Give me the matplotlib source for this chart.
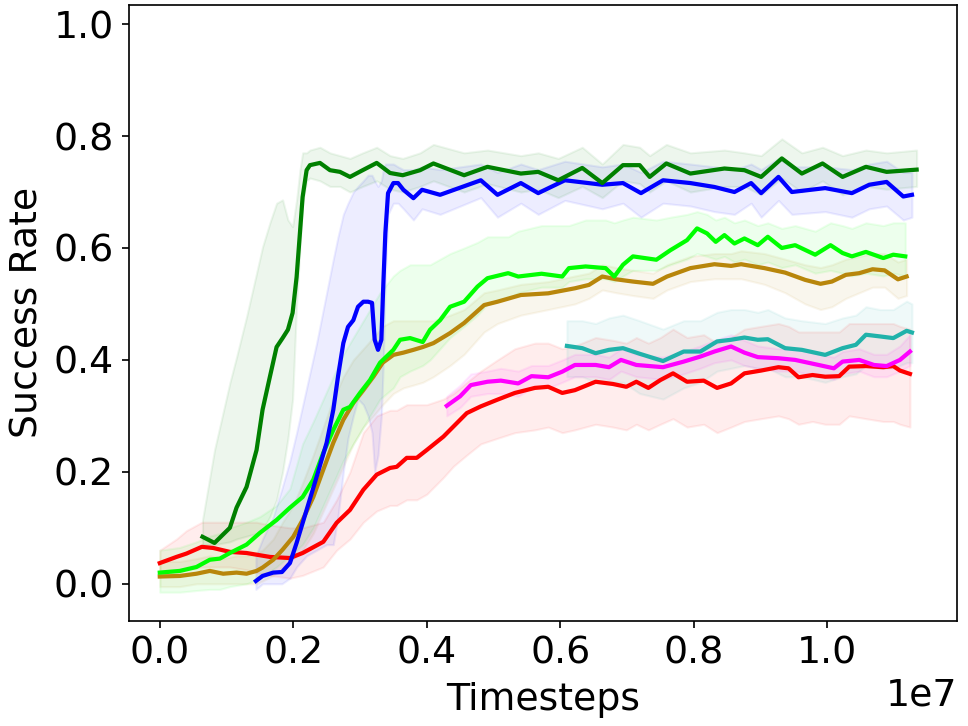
import matplotlib
matplotlib.use("Agg")
from matplotlib import pyplot as plt

# timesteps are in units of 1e7, success rate in [0, 1]

# dark green run
g_x = [0.064, 0.082, 0.105, 0.115, 0.13, 0.145, 0.154, 0.165, 0.175, 0.184, 0.192, 0.199, 0.205, 0.21,
       0.214, 0.22, 0.225, 0.24, 0.255, 0.27, 0.285, 0.304, 0.325, 0.345, 0.364, 0.39, 0.41, 0.456, 0.491,
       0.541, 0.567, 0.597, 0.633, 0.663, 0.694, 0.719, 0.734, 0.759, 0.795, 0.846, 0.876, 0.901, 0.932,
       0.962, 0.993, 1.023, 1.058, 1.089, 1.134]
g_y = [0.084, 0.073, 0.10, 0.136, 0.173, 0.239, 0.311, 0.37, 0.423, 0.439, 0.454, 0.484, 0.548, 0.627,
       0.691, 0.739, 0.748, 0.752, 0.739, 0.736, 0.727, 0.739, 0.752, 0.734, 0.73, 0.739, 0.751, 0.73, 0.745,
       0.733, 0.736, 0.721, 0.743, 0.716, 0.748, 0.748, 0.727, 0.751, 0.733, 0.742, 0.739, 0.727, 0.76,
       0.733, 0.751, 0.727, 0.745, 0.736, 0.740]
g_hi = [0.114, 0.239, 0.359, 0.405, 0.477, 0.555, 0.602, 0.645, 0.68, 0.686, 0.65, 0.638, 0.686, 0.739,
        0.77, 0.77, 0.775, 0.78, 0.77, 0.765, 0.76, 0.77, 0.78, 0.765, 0.76, 0.77, 0.785, 0.77, 0.775,
        0.765, 0.77, 0.76, 0.78, 0.75, 0.785, 0.78, 0.765, 0.785, 0.77, 0.775, 0.77, 0.765, 0.795,
        0.77, 0.78, 0.765, 0.775, 0.77, 0.775]
g_lo = [0.07, 0.07, 0.075, 0.08, 0.085, 0.09, 0.095, 0.12, 0.15, 0.2, 0.26, 0.33, 0.5, 0.6,
        0.68, 0.72, 0.725, 0.72, 0.71, 0.71, 0.7, 0.71, 0.72, 0.705, 0.7, 0.71, 0.72, 0.70, 0.715,
        0.70, 0.705, 0.69, 0.71, 0.69, 0.72, 0.715, 0.70, 0.72, 0.70, 0.71, 0.71, 0.695, 0.725,
        0.70, 0.72, 0.695, 0.71, 0.705, 0.71]

# blue run
b_x = [0.144, 0.154, 0.17, 0.183, 0.195, 0.205, 0.22, 0.235, 0.25, 0.26, 0.267, 0.275, 0.282, 0.29,
       0.297, 0.305, 0.312, 0.318, 0.322, 0.327, 0.332, 0.335, 0.338, 0.342, 0.35, 0.357, 0.365, 0.38,
       0.393, 0.42, 0.481, 0.506, 0.541, 0.567, 0.607, 0.663, 0.694, 0.721, 0.754, 0.795, 0.831, 0.861,
       0.886, 0.901, 0.927, 0.947, 0.997, 1.037, 1.063, 1.089, 1.114, 1.127]
b_y = [0.005, 0.014, 0.02, 0.021, 0.037, 0.073, 0.132, 0.191, 0.252, 0.311, 0.37, 0.43, 0.459, 0.471,
       0.495, 0.504, 0.504, 0.502, 0.436, 0.418, 0.436, 0.537, 0.627, 0.698, 0.716, 0.716, 0.704, 0.689,
       0.704, 0.695, 0.721, 0.695, 0.716, 0.698, 0.721, 0.713, 0.716, 0.698, 0.721, 0.716, 0.709, 0.70,
       0.716, 0.698, 0.727, 0.70, 0.707, 0.698, 0.713, 0.718, 0.692, 0.695]
b_hi = [0.05, 0.08, 0.12, 0.17, 0.22, 0.27, 0.35, 0.43, 0.52, 0.58, 0.62, 0.66, 0.68, 0.70,
        0.71, 0.72, 0.73, 0.73, 0.72, 0.71, 0.72, 0.74, 0.75, 0.75, 0.75, 0.745, 0.74, 0.74,
        0.745, 0.74, 0.75, 0.735, 0.75, 0.74, 0.755, 0.745, 0.75, 0.735, 0.755, 0.75, 0.745, 0.74,
        0.75, 0.74, 0.76, 0.745, 0.745, 0.74, 0.75, 0.755, 0.735, 0.735]
b_lo = [-0.01, 0.0, 0.0, 0.0, 0.01, 0.03, 0.05, 0.06, 0.07, 0.07, 0.12, 0.2, 0.26, 0.3,
        0.33, 0.32, 0.3, 0.27, 0.2, 0.23, 0.3, 0.4, 0.55, 0.66, 0.68, 0.68, 0.67, 0.65,
        0.67, 0.66, 0.69, 0.655, 0.68, 0.66, 0.685, 0.67, 0.68, 0.655, 0.68, 0.675, 0.665, 0.66,
        0.68, 0.655, 0.685, 0.66, 0.665, 0.655, 0.67, 0.675, 0.65, 0.655]

# lime run
l_x = [0.0, 0.03, 0.055, 0.075, 0.09, 0.105, 0.13, 0.15, 0.175, 0.195, 0.214, 0.23, 0.245, 0.26, 0.275,
       0.285, 0.3, 0.315, 0.33, 0.35, 0.36, 0.375, 0.394, 0.405, 0.42, 0.435, 0.456, 0.476, 0.491, 0.522,
       0.537, 0.572, 0.603, 0.613, 0.638, 0.668, 0.681, 0.694, 0.709, 0.744, 0.765, 0.79, 0.805, 0.82,
       0.833, 0.846, 0.861, 0.876, 0.896, 0.911, 0.932, 0.952, 0.982, 1.005, 1.023, 1.037, 1.058, 1.084,
       1.099, 1.117]
l_y = [0.02, 0.023, 0.03, 0.043, 0.045, 0.055, 0.07, 0.091, 0.114, 0.136, 0.155, 0.186, 0.234, 0.275,
       0.311, 0.316, 0.341, 0.364, 0.395, 0.418, 0.436, 0.439, 0.432, 0.454, 0.471, 0.495, 0.504, 0.531,
       0.546, 0.555, 0.549, 0.554, 0.549, 0.564, 0.567, 0.564, 0.549, 0.57, 0.585, 0.579, 0.596, 0.614,
       0.635, 0.626, 0.611, 0.623, 0.608, 0.617, 0.605, 0.620, 0.60, 0.605, 0.588, 0.605, 0.591, 0.585,
       0.593, 0.582, 0.588, 0.585]
l_hi = [0.06, 0.065, 0.075, 0.085, 0.09, 0.10, 0.11, 0.12, 0.14, 0.17,
        0.25, 0.29, 0.33, 0.37, 0.41, 0.43, 0.46, 0.49, 0.52, 0.55, 0.56, 0.57, 0.57, 0.57, 0.58,
        0.59, 0.60, 0.61, 0.62, 0.62, 0.63, 0.64, 0.64, 0.64, 0.65, 0.65, 0.645, 0.65, 0.655, 0.65,
        0.655, 0.66, 0.665, 0.66, 0.65, 0.655, 0.645, 0.65, 0.64, 0.645, 0.635, 0.64, 0.63, 0.645, 0.64,
        0.635, 0.645, 0.64, 0.645, 0.645]
l_lo = [-0.015, -0.015, -0.012, -0.01, -0.01, -0.005, 0.0, 0.01, 0.03, 0.05,
        0.07, 0.1, 0.14, 0.18, 0.22, 0.24, 0.27, 0.3, 0.33, 0.35, 0.37, 0.38, 0.39, 0.4, 0.42,
        0.44, 0.46, 0.48, 0.5, 0.51, 0.52, 0.53, 0.53, 0.54, 0.545, 0.545, 0.54, 0.55, 0.56, 0.56,
        0.57, 0.58, 0.59, 0.585, 0.58, 0.585, 0.575, 0.58, 0.57, 0.575, 0.565, 0.57, 0.555, 0.56, 0.555,
        0.55, 0.555, 0.55, 0.555, 0.55]

# brown run
o_x = [0.0, 0.03, 0.055, 0.075, 0.095, 0.115, 0.13, 0.145, 0.154, 0.17, 0.184, 0.2, 0.214, 0.23, 0.245,
       0.26, 0.275, 0.29, 0.305, 0.32, 0.334, 0.35, 0.365, 0.38, 0.394, 0.41, 0.435, 0.456, 0.486, 0.506,
       0.541, 0.582, 0.622, 0.643, 0.663, 0.684, 0.709, 0.739, 0.76, 0.795, 0.831, 0.856, 0.871, 0.906,
       0.937, 0.967, 0.99, 1.007, 1.028, 1.048, 1.068, 1.086, 1.106, 1.119]
o_y = [0.013, 0.014, 0.018, 0.023, 0.018, 0.02, 0.018, 0.023, 0.029, 0.043, 0.061, 0.084, 0.114, 0.155,
       0.204, 0.252, 0.293, 0.323, 0.346, 0.37, 0.395, 0.409, 0.413, 0.418, 0.423, 0.43, 0.448, 0.466,
       0.498, 0.504, 0.516, 0.519, 0.528, 0.534, 0.549, 0.544, 0.54, 0.536, 0.549, 0.564, 0.571, 0.568,
       0.571, 0.564, 0.556, 0.543, 0.536, 0.54, 0.552, 0.555, 0.562, 0.56, 0.544, 0.549]
o_hi = [0.04, 0.04, 0.045, 0.05, 0.045, 0.05, 0.05, 0.055, 0.06, 0.08, 0.11, 0.14, 0.18, 0.23, 0.28,
        0.33, 0.37, 0.4, 0.42, 0.44, 0.46, 0.47, 0.47, 0.47, 0.47, 0.47, 0.48, 0.49, 0.52, 0.525,
        0.535, 0.54, 0.55, 0.555, 0.57, 0.565, 0.56, 0.555, 0.57, 0.585, 0.59, 0.59, 0.595, 0.59,
        0.58, 0.57, 0.565, 0.57, 0.58, 0.585, 0.59, 0.59, 0.575, 0.58]
o_lo = [-0.005, -0.005, 0.0, 0.0, 0.0, 0.0, 0.0, 0.0, 0.005, 0.015, 0.03, 0.045, 0.06, 0.09, 0.13,
        0.17, 0.21, 0.25, 0.28, 0.3, 0.32, 0.34, 0.35, 0.355, 0.36, 0.37, 0.39, 0.41, 0.45, 0.465,
        0.48, 0.49, 0.5, 0.51, 0.525, 0.52, 0.515, 0.51, 0.525, 0.54, 0.545, 0.545, 0.545, 0.535,
        0.52, 0.5, 0.49, 0.495, 0.51, 0.52, 0.53, 0.53, 0.51, 0.515]

# teal run
t_x = [0.61, 0.633, 0.653, 0.673, 0.694, 0.719, 0.754, 0.785, 0.81, 0.835, 0.856, 0.876, 0.896, 0.911,
       0.937, 0.962, 0.997, 1.023, 1.043, 1.058, 1.079, 1.099, 1.119, 1.127]
t_y = [0.425, 0.421, 0.412, 0.418, 0.421, 0.411, 0.398, 0.415, 0.415, 0.433, 0.436, 0.44, 0.436, 0.437,
       0.421, 0.418, 0.409, 0.421, 0.427, 0.445, 0.442, 0.439, 0.452, 0.449]
t_hi = [0.47, 0.47, 0.465, 0.475, 0.48, 0.47, 0.455, 0.47, 0.47, 0.485, 0.49, 0.49, 0.485, 0.49,
        0.475, 0.47, 0.465, 0.475, 0.48, 0.495, 0.49, 0.49, 0.505, 0.5]
t_lo = [0.37, 0.37, 0.36, 0.36, 0.36, 0.34, 0.33, 0.35, 0.36, 0.38, 0.385, 0.39, 0.385, 0.385,
        0.37, 0.37, 0.36, 0.37, 0.375, 0.39, 0.385, 0.385, 0.395, 0.395]

# magenta run
m_x = [0.43, 0.45, 0.466, 0.491, 0.511, 0.537, 0.557, 0.582, 0.603, 0.622, 0.653, 0.673, 0.691, 0.714,
       0.754, 0.785, 0.81, 0.831, 0.856, 0.876, 0.896, 0.927, 0.952, 0.987, 1.01, 1.023, 1.048, 1.07,
       1.089, 1.109, 1.124]
m_y = [0.318, 0.335, 0.355, 0.361, 0.363, 0.358, 0.371, 0.369, 0.379, 0.391, 0.391, 0.387, 0.40, 0.391,
       0.387, 0.397, 0.406, 0.415, 0.424, 0.413, 0.405, 0.403, 0.40, 0.391, 0.385, 0.397, 0.40, 0.391,
       0.389, 0.40, 0.415]
m_hi = [0.335, 0.355, 0.375, 0.38, 0.385, 0.38, 0.39, 0.39, 0.4, 0.41, 0.41, 0.405, 0.42, 0.41,
        0.405, 0.415, 0.425, 0.435, 0.445, 0.435, 0.425, 0.42, 0.42, 0.41, 0.405, 0.415, 0.42, 0.41,
        0.41, 0.425, 0.445]
m_lo = [0.30, 0.315, 0.335, 0.34, 0.34, 0.335, 0.35, 0.35, 0.36, 0.37, 0.37, 0.365, 0.38, 0.37,
        0.365, 0.375, 0.385, 0.395, 0.40, 0.39, 0.385, 0.38, 0.38, 0.37, 0.365, 0.375, 0.38, 0.37,
        0.37, 0.38, 0.39]

# red run
r_x = [0.0, 0.025, 0.04, 0.063, 0.08, 0.105, 0.13, 0.145, 0.165, 0.195, 0.214, 0.245, 0.265, 0.285,
       0.305, 0.325, 0.345, 0.355, 0.37, 0.385, 0.40, 0.425, 0.44, 0.46, 0.481, 0.506, 0.532, 0.562,
       0.582, 0.603, 0.622, 0.653, 0.679, 0.699, 0.714, 0.732, 0.75, 0.769, 0.79, 0.815, 0.835, 0.856,
       0.876, 0.901, 0.927, 0.942, 0.957, 0.978, 0.997, 1.018, 1.033, 1.058, 1.084, 1.099, 1.109, 1.124]
r_y = [0.037, 0.048, 0.054, 0.066, 0.064, 0.057, 0.055, 0.052, 0.048, 0.046, 0.055, 0.075, 0.109, 0.132,
       0.168, 0.195, 0.207, 0.209, 0.225, 0.225, 0.239, 0.263, 0.281, 0.305, 0.317, 0.329, 0.341, 0.35,
       0.352, 0.341, 0.346, 0.361, 0.357, 0.352, 0.361, 0.35, 0.364, 0.376, 0.361, 0.363, 0.35, 0.358,
       0.376, 0.381, 0.387, 0.385, 0.369, 0.373, 0.37, 0.371, 0.388, 0.389, 0.387, 0.389, 0.381, 0.375]
r_hi = [0.06, 0.08, 0.095, 0.11, 0.11, 0.11, 0.11, 0.11, 0.105, 0.10, 0.10, 0.11, 0.15, 0.2,
        0.27, 0.3, 0.31, 0.31, 0.32, 0.32, 0.32, 0.33, 0.34, 0.36, 0.38, 0.4, 0.42, 0.43,
        0.43, 0.42, 0.425, 0.44, 0.435, 0.43, 0.44, 0.43, 0.44, 0.455, 0.44, 0.445, 0.43, 0.44,
        0.455, 0.46, 0.465, 0.46, 0.45, 0.45, 0.45, 0.45, 0.465, 0.465, 0.465, 0.465, 0.46, 0.455]
r_lo = [0.015, 0.02, 0.025, 0.03, 0.03, 0.03, 0.025, 0.02, 0.015, 0.01, 0.015, 0.03, 0.06, 0.08,
        0.11, 0.13, 0.14, 0.14, 0.15, 0.15, 0.16, 0.19, 0.21, 0.23, 0.25, 0.26, 0.27, 0.275,
        0.28, 0.27, 0.275, 0.285, 0.28, 0.275, 0.285, 0.275, 0.285, 0.295, 0.28, 0.285, 0.27, 0.28,
        0.29, 0.295, 0.3, 0.295, 0.285, 0.29, 0.285, 0.285, 0.3, 0.295, 0.29, 0.29, 0.285, 0.28]

runs = [
    (r_x, r_y, r_lo, r_hi, "red"),
    (o_x, o_y, o_lo, o_hi, "darkgoldenrod"),
    (l_x, l_y, l_lo, l_hi, "lime"),
    (b_x, b_y, b_lo, b_hi, "blue"),
    (g_x, g_y, g_lo, g_hi, "green"),
    (t_x, t_y, t_lo, t_hi, "lightseagreen"),
    (m_x, m_y, m_lo, m_hi, "magenta"),
]

fig = plt.figure(figsize=(6.4, 4.8), dpi=151.25)
ax = fig.add_axes([0.133, 0.145, 0.856, 0.848])

for xs, ys, lo, hi, c in runs:
    steps = [v * 1e7 for v in xs]
    ax.fill_between(steps, lo, hi, color=c, alpha=0.07)
    ax.plot(steps, ys, color=c, linewidth=2)

ax.set_xlim(-0.0465e7, 1.195e7)
ax.set_ylim(-0.066, 1.034)
ax.set_yticks([0.0, 0.2, 0.4, 0.6, 0.8, 1.0])
ax.set_xticks([0.0, 0.2e7, 0.4e7, 0.6e7, 0.8e7, 1.0e7])
ax.tick_params(labelsize=18)
ax.xaxis.get_offset_text().set_fontsize(18)
ax.set_xlabel("Timesteps", fontsize=18, labelpad=4.8)
ax.set_ylabel("Success Rate", fontsize=18)

fig.savefig("out.png", dpi=151.25)
